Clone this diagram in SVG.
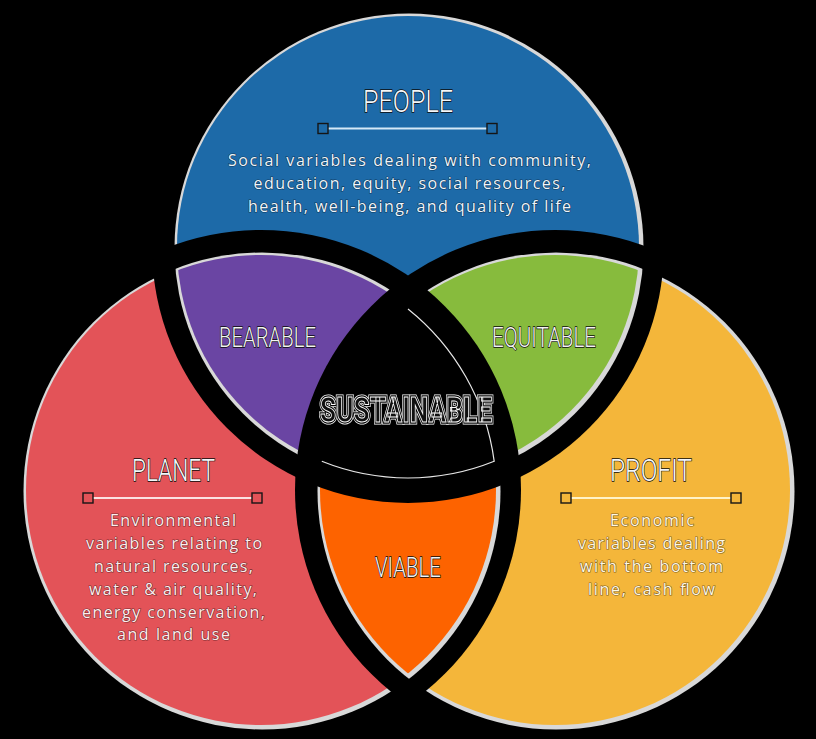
<svg xmlns="http://www.w3.org/2000/svg" width="816" height="739" viewBox="0 0 816 739">
<style>
.rim{fill:#d8d8d8}
.title{font-family:Roboto,"Liberation Sans",sans-serif;font-weight:300;font-size:32px;fill:#f4f7fa;stroke:#0b0b0b;stroke-width:1.4;paint-order:stroke;text-anchor:middle}
.label{font-family:Roboto,"Liberation Sans",sans-serif;font-weight:300;font-size:28px;fill:#f4f4f4;stroke:#0b0b0b;stroke-width:1.4;paint-order:stroke;text-anchor:middle}
.body{font-family:"Open Sans","Liberation Sans",sans-serif;font-size:16px;stroke:rgba(0,0,0,0.5);stroke-width:1.2;paint-order:stroke;text-anchor:middle}
.sq{stroke:#151515;stroke-width:1.4}
.bar{stroke-width:2.2}
.sus{font-family:Roboto,"Liberation Sans",sans-serif;font-weight:700;font-size:35px;text-anchor:middle}
</style>
<defs>
<mask id="notBC" maskUnits="userSpaceOnUse" x="0" y="0" width="816" height="739"><rect width="816" height="739" fill="#fff"/><circle cx="261" cy="490" r="260" fill="#000"/><circle cx="555" cy="490" r="260" fill="#000"/></mask>
<mask id="notAC" maskUnits="userSpaceOnUse" x="0" y="0" width="816" height="739"><rect width="816" height="739" fill="#fff"/><circle cx="408" cy="247" r="256" fill="#000"/><circle cx="555" cy="490" r="260" fill="#000"/></mask>
<mask id="notAB" maskUnits="userSpaceOnUse" x="0" y="0" width="816" height="739"><rect width="816" height="739" fill="#fff"/><circle cx="408" cy="247" r="256" fill="#000"/><circle cx="261" cy="490" r="260" fill="#000"/></mask>
<mask id="notA" maskUnits="userSpaceOnUse" x="0" y="0" width="816" height="739"><rect width="816" height="739" fill="#fff"/><circle cx="408" cy="247" r="256" fill="#000"/></mask>
<mask id="notB" maskUnits="userSpaceOnUse" x="0" y="0" width="816" height="739"><rect width="816" height="739" fill="#fff"/><circle cx="261" cy="490" r="260" fill="#000"/></mask>
<mask id="notC" maskUnits="userSpaceOnUse" x="0" y="0" width="816" height="739"><rect width="816" height="739" fill="#fff"/><circle cx="555" cy="490" r="260" fill="#000"/></mask>
<clipPath id="clipB"><circle cx="261" cy="490" r="235"/></clipPath>
<clipPath id="clipBg"><circle cx="262" cy="491" r="238.5"/></clipPath>
<clipPath id="clipC"><circle cx="555" cy="490" r="235"/></clipPath>
<clipPath id="clipCg"><circle cx="556" cy="491" r="238.5"/></clipPath>
</defs>
<rect width="816" height="739" fill="#000"/>

<g id="people">
<g mask="url(#notBC)"><circle class="rim" cx="409" cy="248" r="234.5"/><circle cx="408" cy="247" r="231" fill="#1d6aa8"/></g>
<text class="title" x="408" y="112" textLength="90" lengthAdjust="spacingAndGlyphs">PEOPLE</text>
<line class="bar" x1="328" y1="128.5" x2="487" y2="128.5" stroke="#d6e9f7"/>
<rect class="sq" x="318" y="123.5" width="10" height="10" fill="#1d6aa8"/>
<rect class="sq" x="487" y="123.5" width="10" height="10" fill="#1d6aa8"/>
<text class="body" fill="#eef5fb"><tspan x="409.5" y="166" textLength="363" lengthAdjust="spacing">Social variables dealing with community,</tspan><tspan x="409.5" y="189" textLength="312" lengthAdjust="spacing">education, equity, social resources,</tspan><tspan x="409.5" y="212" textLength="323" lengthAdjust="spacing">health, well-being, and quality of life</tspan></text>
</g>

<g id="planet">
<g mask="url(#notAC)"><circle class="rim" cx="262" cy="491" r="238.5"/><circle cx="261" cy="490" r="235" fill="#e35358"/></g>
<text class="title" x="173.5" y="481" textLength="83" lengthAdjust="spacingAndGlyphs">PLANET</text>
<line class="bar" x1="93" y1="498" x2="252" y2="498" stroke="#fbe2e2"/>
<rect class="sq" x="83" y="493" width="10" height="10" fill="#e35358"/>
<rect class="sq" x="252" y="493" width="10" height="10" fill="#e35358"/>
<text class="body" fill="#fdeeee"><tspan x="173" y="526" textLength="126" lengthAdjust="spacing">Environmental</tspan><tspan x="174" y="549" textLength="176" lengthAdjust="spacing">variables relating to</tspan><tspan x="173.5" y="572" textLength="159" lengthAdjust="spacing">natural resources,</tspan><tspan x="173" y="595" textLength="168" lengthAdjust="spacing">water &amp; air quality,</tspan><tspan x="173.5" y="618" textLength="183" lengthAdjust="spacing">energy conservation,</tspan><tspan x="173.5" y="640" textLength="113" lengthAdjust="spacing">and land use</tspan></text>
</g>

<g id="profit">
<g mask="url(#notAB)"><circle class="rim" cx="556" cy="491" r="238.5"/><circle cx="555" cy="490" r="235" fill="#f4b63a"/></g>
<text class="title" x="651" y="481" textLength="82" lengthAdjust="spacingAndGlyphs">PROFIT</text>
<line class="bar" x1="571" y1="498" x2="731" y2="498" stroke="#fff3c8"/>
<rect class="sq" x="561" y="493" width="10" height="10" fill="#f4b63a"/>
<rect class="sq" x="731" y="493" width="10" height="10" fill="#f4b63a"/>
<text class="body" fill="#fff8e4"><tspan x="652" y="526" textLength="84" lengthAdjust="spacing">Economic</tspan><tspan x="651.5" y="549" textLength="147" lengthAdjust="spacing">variables dealing</tspan><tspan x="651.5" y="572" textLength="143" lengthAdjust="spacing">with the bottom</tspan><tspan x="651.5" y="595" textLength="127" lengthAdjust="spacing">line, cash flow</tspan></text>
</g>

<g id="bearable">
<g mask="url(#notC)"><g clip-path="url(#clipBg)"><circle class="rim" cx="409" cy="248" r="234.5"/></g><g clip-path="url(#clipB)"><circle cx="408" cy="247" r="231" fill="#6a45a3"/></g></g>
<text class="label" x="267.5" y="347" textLength="97" lengthAdjust="spacingAndGlyphs">BEARABLE</text>
</g>

<g id="equitable">
<g mask="url(#notB)"><g clip-path="url(#clipCg)"><circle class="rim" cx="409" cy="248" r="234.5"/></g><g clip-path="url(#clipC)"><circle cx="408" cy="247" r="231" fill="#87bb3d"/></g></g>
<text class="label" x="544" y="347" textLength="104" lengthAdjust="spacingAndGlyphs">EQUITABLE</text>
</g>

<g id="viable">
<g mask="url(#notA)"><g clip-path="url(#clipCg)"><circle class="rim" cx="262" cy="491" r="238.5"/></g><g clip-path="url(#clipC)"><circle cx="261" cy="490" r="235" fill="#fd6300"/></g></g>
<text class="label" x="408" y="577" textLength="66" lengthAdjust="spacingAndGlyphs">VIABLE</text>
</g>

<g id="sustainable">
<path d="M408,306.6 A235,235 0 0 1 494.2,461.3 A231,231 0 0 1 321.8,461.3 A235,235 0 0 1 408,306.6 Z" fill="#000"/>
<path d="M408,309 A235,235 0 0 1 494.2,461.3 A231,231 0 0 1 321.8,461.3" fill="none" stroke="#e6e6e6" stroke-width="1.2"/>
<g opacity="0.99">
<text class="sus" x="406" y="422" textLength="172" lengthAdjust="spacingAndGlyphs" fill="none" stroke="#ffffff" stroke-width="5">SUSTAINABLE</text>
<text class="sus" x="406" y="422" textLength="172" lengthAdjust="spacingAndGlyphs" fill="none" stroke="#000000" stroke-width="3.4">SUSTAINABLE</text>
<text class="sus" x="406" y="422" textLength="172" lengthAdjust="spacingAndGlyphs" fill="#111111" stroke="#ffffff" stroke-width="1">SUSTAINABLE</text>
</g>
</g>
</svg>
